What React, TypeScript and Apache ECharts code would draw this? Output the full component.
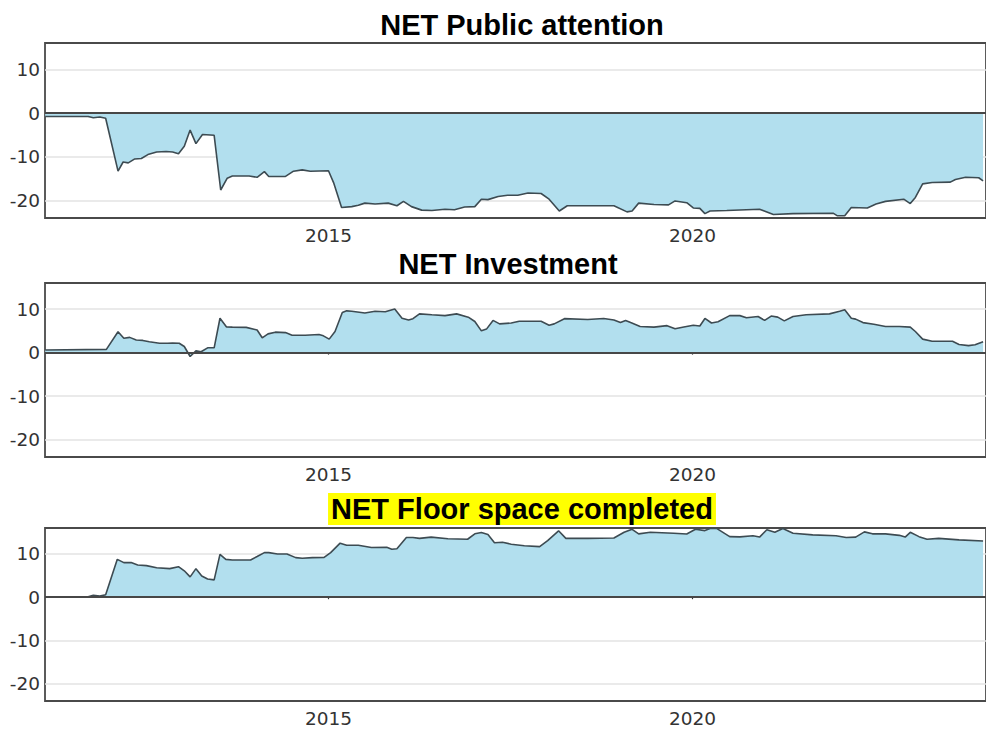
import React, { useEffect, useRef } from "react";
import * as echarts from "echarts";

const panelTitles = ["NET Public attention", "NET Investment", "NET Floor space completed"];
const yTicks = [-20, -10, 0, 10];
const xTicks = [2015, 2020];

const publicAttention = [
  [2011.11, -0.8], [2011.70, -0.8], [2011.77, -1.1], [2011.86, -0.9], [2011.94, -1.2],
  [2012.11, -13.3], [2012.18, -11.2], [2012.25, -11.4], [2012.34, -10.5], [2012.43, -10.4],
  [2012.52, -9.5], [2012.64, -8.9], [2012.77, -8.8], [2012.86, -8.9], [2012.94, -9.3],
  [2013.02, -7.6], [2013.10, -3.9], [2013.18, -7.0], [2013.27, -4.9], [2013.43, -5.1],
  [2013.52, -17.6], [2013.61, -14.9], [2013.68, -14.4], [2013.91, -14.4], [2014.02, -14.7],
  [2014.12, -13.4], [2014.18, -14.5], [2014.41, -14.5], [2014.52, -13.3], [2014.64, -13.0],
  [2014.75, -13.3], [2015.00, -13.2], [2015.07, -15.9], [2015.18, -21.6], [2015.32, -21.4],
  [2015.41, -21.1], [2015.50, -20.6], [2015.64, -20.8], [2015.82, -20.6], [2015.94, -21.2],
  [2016.03, -20.2], [2016.14, -21.4], [2016.28, -22.2], [2016.42, -22.3], [2016.60, -22.0],
  [2016.73, -22.1], [2016.87, -21.5], [2017.01, -21.4], [2017.10, -19.7], [2017.19, -19.8],
  [2017.33, -19.1], [2017.46, -18.8], [2017.60, -18.8], [2017.74, -18.3], [2017.92, -18.4],
  [2018.03, -19.7], [2018.17, -22.4], [2018.28, -21.2], [2018.56, -21.2], [2018.92, -21.2],
  [2019.10, -22.6], [2019.17, -22.4], [2019.26, -20.6], [2019.47, -20.9], [2019.67, -21.0],
  [2019.76, -20.1], [2019.92, -20.5], [2020.01, -21.7], [2020.10, -21.8], [2020.17, -23.0],
  [2020.24, -22.4], [2020.47, -22.3], [2020.92, -22.0], [2021.11, -23.2], [2021.38, -23.0],
  [2021.93, -22.9], [2021.99, -23.5], [2022.09, -23.5], [2022.18, -21.6], [2022.40, -21.7],
  [2022.52, -20.8], [2022.65, -20.2], [2022.90, -19.7], [2022.99, -20.7], [2023.06, -19.3],
  [2023.16, -16.2], [2023.29, -15.9], [2023.54, -15.8], [2023.61, -15.2], [2023.75, -14.7],
  [2023.93, -14.8], [2023.99, -15.5],
];

const investment = [
  [2011.11, 0.6], [2011.95, 0.75], [2012.11, 4.8], [2012.19, 3.3], [2012.27, 3.5],
  [2012.36, 2.9], [2012.45, 2.8], [2012.54, 2.5], [2012.68, 2.15], [2012.79, 2.15],
  [2012.86, 2.2], [2012.95, 2.15], [2013.02, 1.4], [2013.10, -0.9], [2013.18, 0.4],
  [2013.25, 0.2], [2013.34, 1.1], [2013.43, 1.1], [2013.51, 7.9], [2013.60, 5.9],
  [2013.68, 5.85], [2013.87, 5.8], [2014.02, 5.2], [2014.09, 3.4], [2014.17, 4.3],
  [2014.27, 4.7], [2014.41, 4.6], [2014.50, 4.0], [2014.68, 4.0], [2014.87, 4.15],
  [2014.93, 3.85], [2015.01, 3.1], [2015.09, 4.85], [2015.19, 9.2], [2015.25, 9.6],
  [2015.32, 9.5], [2015.50, 9.1], [2015.64, 9.5], [2015.78, 9.4], [2015.91, 10.0],
  [2016.01, 7.9], [2016.10, 7.5], [2016.16, 7.8], [2016.25, 8.9], [2016.42, 8.7],
  [2016.60, 8.5], [2016.76, 8.9], [2016.92, 8.15], [2017.01, 7.15], [2017.10, 5.0],
  [2017.17, 5.4], [2017.26, 7.4], [2017.35, 6.6], [2017.51, 6.8], [2017.62, 7.2],
  [2017.92, 7.2], [2018.03, 6.3], [2018.10, 6.6], [2018.24, 7.8], [2018.56, 7.6],
  [2018.78, 7.85], [2018.92, 7.5], [2019.01, 6.9], [2019.08, 7.4], [2019.15, 6.9],
  [2019.28, 6.0], [2019.47, 5.85], [2019.65, 6.2], [2019.76, 5.5], [2019.88, 5.9],
  [2020.01, 6.3], [2020.10, 6.1], [2020.17, 7.85], [2020.26, 6.8], [2020.35, 7.1],
  [2020.51, 8.5], [2020.65, 8.5], [2020.74, 8.0], [2020.90, 8.3], [2020.99, 7.4],
  [2021.08, 8.4], [2021.17, 8.15], [2021.26, 7.3], [2021.38, 8.3], [2021.56, 8.7],
  [2021.88, 8.9], [2022.02, 9.5], [2022.09, 9.85], [2022.18, 7.9], [2022.24, 7.7],
  [2022.34, 6.9], [2022.49, 6.5], [2022.65, 6.0], [2022.84, 6.0], [2022.99, 5.85],
  [2023.06, 4.85], [2023.16, 3.1], [2023.29, 2.6], [2023.57, 2.6], [2023.66, 1.85],
  [2023.79, 1.6], [2023.88, 1.8], [2023.99, 2.5],
];

const floorSpace = [
  [2011.11, 0], [2011.70, 0.1], [2011.77, 0.45], [2011.86, 0.25], [2011.94, 0.55],
  [2012.10, 8.75], [2012.19, 8.0], [2012.29, 8.0], [2012.38, 7.45], [2012.50, 7.3],
  [2012.64, 6.8], [2012.82, 6.6], [2012.94, 7.05], [2013.02, 6.1], [2013.10, 4.7],
  [2013.18, 6.6], [2013.26, 4.9], [2013.34, 4.2], [2013.43, 4.0], [2013.51, 9.9],
  [2013.59, 8.75], [2013.68, 8.6], [2013.93, 8.6], [2014.02, 9.4], [2014.12, 10.3],
  [2014.18, 10.3], [2014.30, 10.0], [2014.43, 10.0], [2014.55, 9.15], [2014.64, 9.0],
  [2014.78, 9.15], [2014.94, 9.2], [2015.03, 10.3], [2015.16, 12.5], [2015.25, 12.0],
  [2015.41, 12.0], [2015.59, 11.5], [2015.80, 11.55], [2015.87, 11.1], [2015.94, 11.2],
  [2016.07, 13.8], [2016.16, 13.8], [2016.25, 13.6], [2016.41, 13.9], [2016.64, 13.5],
  [2016.91, 13.4], [2017.01, 14.65], [2017.10, 14.95], [2017.19, 14.5], [2017.28, 12.6],
  [2017.39, 12.7], [2017.51, 12.25], [2017.69, 11.9], [2017.90, 11.7], [2018.01, 13.1],
  [2018.16, 15.35], [2018.26, 13.6], [2018.56, 13.6], [2018.92, 13.7], [2019.06, 15.0],
  [2019.17, 15.7], [2019.26, 14.65], [2019.42, 15.0], [2019.74, 14.8], [2019.92, 14.6],
  [2020.04, 15.7], [2020.17, 15.4], [2020.24, 15.9], [2020.33, 15.9], [2020.51, 14.0],
  [2020.65, 13.95], [2020.83, 14.2], [2020.92, 13.9], [2021.02, 15.6], [2021.13, 15.0],
  [2021.24, 15.9], [2021.38, 14.8], [2021.65, 14.4], [2021.97, 14.2], [2022.11, 13.8],
  [2022.24, 13.9], [2022.36, 15.1], [2022.47, 14.65], [2022.65, 14.65], [2022.84, 14.3],
  [2022.92, 13.9], [2022.99, 15.0], [2023.11, 14.0], [2023.22, 13.4], [2023.38, 13.6],
  [2023.66, 13.25], [2023.99, 13.0],
];

const seriesData = [publicAttention, investment, floorSpace];

const TITLE_FONT = "'Liberation Sans', Arial, Helvetica, sans-serif";
const TICK_FONT = "'DejaVu Sans', 'Liberation Sans', sans-serif";

// layout (pixels)
const gridTops = [43, 283, 528];
const gridHeights = [175, 174, 173];
const titleCentersY = [25, 264, 509];
const titleCentersX = [522, 508, 522];

export default function App() {
  const ref = useRef<HTMLDivElement>(null);
  useEffect(() => {
    if (!ref.current) return;
    const chart = echarts.init(ref.current, null, { renderer: "svg" });
    const grids = gridTops.map((top, i) => ({
      left: 45,
      right: -3,
      top,
      height: gridHeights[i],
      show: true,
      borderColor: "#4a4a4a",
      borderWidth: 1.8,
      backgroundColor: "transparent",
    }));
    const xAxes = gridTops.map((_, i) => ({
      type: "value",
      gridIndex: i,
      min: 2011.107,
      max: 2024.03,
      axisLine: { show: false },
      splitLine: { show: false },
      axisTick: { show: true, customValues: xTicks, length: 2, lineStyle: { color: "#333", width: 1.2 } },
      axisLabel: {
        customValues: xTicks,
        formatter: (v: number) => String(Math.round(v)),
        fontFamily: TICK_FONT,
        fontSize: 18.5,
        color: "#333",
        margin: 8,
      },
    }));
    const yAxes = gridTops.map((_, i) => ({
      type: "value",
      gridIndex: i,
      min: -24,
      max: 16,
      axisLine: { show: false },
      axisTick: { show: false, customValues: yTicks },
      splitLine: { show: true, lineStyle: { color: "#e3e3e3", width: 1.6 } },
      axisLabel: {
        customValues: yTicks,
        fontFamily: TICK_FONT,
        fontSize: 18.5,
        color: "#333",
        margin: 5,
      },
    }));
    const series = seriesData.map((data, i) => ({
      type: "line",
      xAxisIndex: i,
      yAxisIndex: i,
      data,
      symbol: "none",
      showSymbol: false,
      lineStyle: { color: "#3d4b52", width: 1.6 },
      areaStyle: { color: "#b2dfee", opacity: 1 },
      markLine: {
        silent: true,
        symbol: ["none", "none"],
        label: { show: false },
        lineStyle: { color: "#474747", width: 1.8, type: "solid" },
        data: [{ yAxis: 0 }],
      },
    }));
    const graphic = panelTitles.map((t, i) => ({
      type: "text",
      x: titleCentersX[i],
      y: titleCentersY[i],
      style: {
        text: t,
        font: `bold 29px ${TITLE_FONT}`,
        fill: "#000",
        align: "center",
        verticalAlign: "middle",
        ...(i === 2 ? { backgroundColor: "#ffff00", padding: [2, 3, 1, 3] } : {}),
      },
    }));
    chart.setOption({
      animation: false,
      backgroundColor: "#fff",
      grid: grids,
      xAxis: xAxes,
      yAxis: yAxes,
      series,
      graphic,
    });
    return () => chart.dispose();
  }, []);
  return <div ref={ref} style={{ position: "absolute", left: 0, top: 0, width: 986, height: 729 }} />;
}
